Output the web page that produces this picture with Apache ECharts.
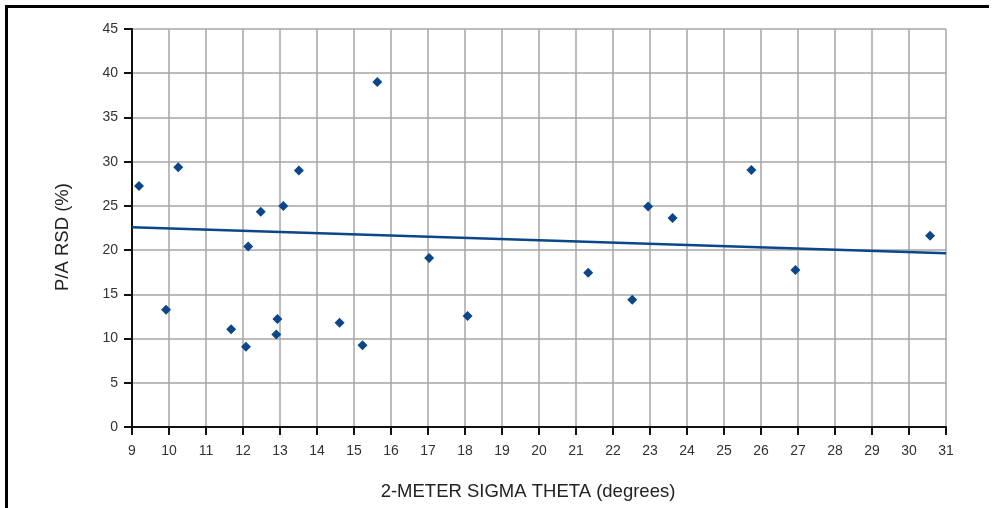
<!DOCTYPE html>
<html>
<head>
<meta charset="utf-8">
<style>
  html, body { margin: 0; padding: 0; background: #ffffff; }
  #chart { width: 992px; height: 508px; }
</style>
<script src="https://cdn.jsdelivr.net/npm/echarts@6/dist/echarts.min.js"></script>
</head>
<body>
<div id="chart"></div>
<script>
// Measured sigma theta (degrees) and the P/A relative standard deviation (%)
const sigmaTheta = [9.19, 9.92, 10.25, 11.68, 12.08, 12.14, 12.48, 12.93, 12.90, 13.09, 13.51,
                    14.61, 15.23, 15.63, 17.03, 18.07, 21.33, 22.52, 22.95, 23.61, 25.74, 26.93, 30.57];
const rsdPercent = [27.26, 13.25, 29.38, 11.06, 9.06, 20.4, 24.35, 12.2, 10.46, 25.0, 29.0,
                    11.78, 9.25, 39.0, 19.1, 12.54, 17.44, 14.38, 24.92, 23.64, 29.07, 17.75, 21.63];
// Linear trend line end points
const trendX = [9, 31];
const trendY = [22.58, 19.64];

const xTitle = '2-METER SIGMA THETA (degrees)';
const yTitle = 'P/A RSD (%)';

const FONT = '"Liberation Sans", Arial, sans-serif';
const BLUE = '#0b4689';

const chart = echarts.init(document.getElementById('chart'), null, { renderer: 'canvas' });

const axisLine = { show: true, onZero: false, lineStyle: { color: '#111', width: 2 } };
const axisTick = { show: true, inside: false, length: 8, lineStyle: { color: '#111', width: 2 } };
const splitLine = { show: true, lineStyle: { color: '#a6a6a6', width: 1.5 } };
const axisLabel = { color: '#333', fontFamily: FONT, fontSize: 14 };

chart.setOption({
  animation: false,
  backgroundColor: '#ffffff',
  grid: { left: 132, right: 46, top: 29, bottom: 81, containLabel: false },
  xAxis: {
    type: 'value', min: 9, max: 31, interval: 1,
    axisLine, axisTick, splitLine,
    axisLabel: Object.assign({ margin: 17 }, axisLabel),
    name: xTitle, nameLocation: 'middle', nameGap: 55,
    nameTextStyle: { color: '#222', fontFamily: FONT, fontSize: 18.5, padding: [0, 22, 0, 0] }
  },
  yAxis: {
    type: 'value', min: 0, max: 45, interval: 5,
    axisLine, axisTick, splitLine,
    axisLabel: Object.assign({ margin: 14 }, axisLabel),
    name: yTitle, nameLocation: 'middle', nameGap: 60, nameRotate: 90,
    nameTextStyle: { color: '#222', fontFamily: FONT, fontSize: 18.5, padding: [0, 18, 0, 0] }
  },
  series: [
    {
      type: 'line',
      data: trendX.map((x, i) => [x, trendY[i]]),
      showSymbol: false, symbol: 'none',
      lineStyle: { color: BLUE, width: 2.5 },
      z: 2
    },
    {
      type: 'scatter',
      data: sigmaTheta.map((x, i) => [x, rsdPercent[i]]),
      symbol: 'diamond', symbolSize: 10,
      itemStyle: { color: BLUE, opacity: 1 },
      z: 3
    }
  ],
  graphic: [
    // page frame lines
    { type: 'rect', shape: { x: 5, y: 5, width: 984, height: 3 }, style: { fill: '#000' } },
    { type: 'rect', shape: { x: 5, y: 5, width: 3, height: 503 }, style: { fill: '#000' } }
  ]
});
</script>
</body>
</html>
